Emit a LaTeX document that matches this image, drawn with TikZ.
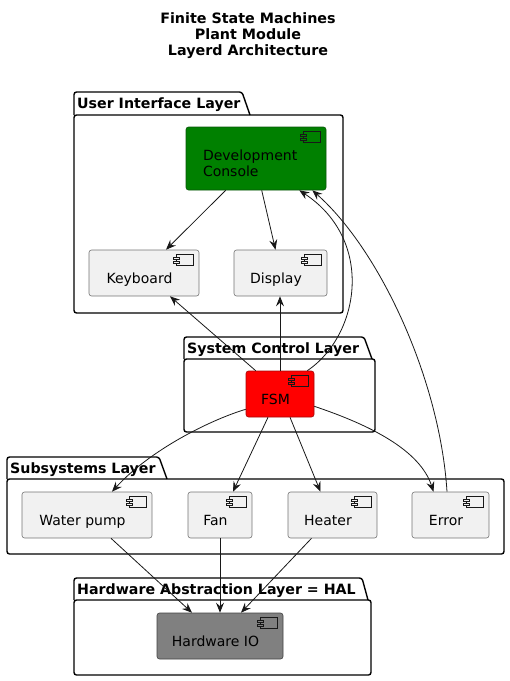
\documentclass[tikz,border=0pt]{standalone}
\usepackage{fontspec}
\setmainfont{DejaVu Sans}
\usetikzlibrary{arrows.meta}
\definecolor{lc}{HTML}{181818}
\definecolor{boxfill}{HTML}{F1F1F1}
\definecolor{devgreen}{HTML}{008000}
\definecolor{fsmred}{HTML}{FF0000}
\definecolor{hwgray}{HTML}{808080}
\tikzset{
  comp/.style={draw=lc!60, line width=0.6pt, rounded corners=2.5pt, fill=boxfill,
    minimum height=46pt, inner sep=0pt,
    font=\fontsize{14}{16}\selectfont},
  onel/.style={text height=20pt, text depth=0pt, execute at begin node={\kern-9pt}},
  pkgline/.style={draw=black, line width=1.4pt, rounded corners=2.5pt},
  pkgtitle/.style={anchor=base west, inner sep=0pt, font=\fontsize{14.2}{16}\selectfont\bfseries},
  conn/.style={draw=lc, line width=0.8pt, -{Stealth[length=10pt,width=8pt,inset=3.5pt]}},
  icon/.style={draw=lc, line width=0.5pt}
}
\newcommand\compicon[2]{%
  \draw[icon, fill=#2] ([xshift=-23pt,yshift=-5pt]#1.north east) rectangle ++(17,11);
  \draw[icon, fill=#2] ([xshift=-26pt,yshift=-7.5pt]#1.north east) rectangle ++(6,2.5);
  \draw[icon, fill=#2] ([xshift=-26pt,yshift=-11.5pt]#1.north east) rectangle ++(6,2.5);
}
\begin{document}
\begin{tikzpicture}[x=1pt,y=-1pt]
\useasboundingbox (0,0) rectangle (510,681);
% title
\node[align=center, inner sep=0pt, font=\fontsize{14.3}{16.4}\selectfont\bfseries, anchor=north] (title) at (248,12)
  {Finite State Machines\\Plant Module\\Layerd Architecture};

% packages
\draw[pkgline] (74,115) -- (74,92) -- (242,92) -- (250,115);
\draw[pkgline] (74,115) rectangle (343,313);
\node[pkgtitle] (ptui) at (77,108) {User Interface Layer};

\draw[pkgline] (184,359) -- (184,337) -- (364,337) -- (372,359);
\draw[pkgline] (184,359) rectangle (375,432);
\node[pkgtitle] (ptscl) at (187,353) {System Control Layer};

\draw[pkgline] (7,479) -- (7,457) -- (159,457) -- (167,479);
\draw[pkgline] (7,479) rectangle (504,554);
\node[pkgtitle] (ptsub) at (10,473) {Subsystems Layer};

\draw[pkgline] (74,600) -- (74,578) -- (362,578) -- (368,600);
\draw[pkgline] (74,600) rectangle (371,675);
\node[pkgtitle] (pthal) at (77,594) {Hardware Abstraction Layer = HAL};

% components
\node[comp, fill=devgreen, draw=lc!40!devgreen, minimum width=140pt, minimum height=63pt,
  align=left, text width=106pt, text height=13pt, text depth=10pt] (dev) at (256,158.5)
  {Development\\Console};
\compicon{dev}{devgreen}
\node[comp, onel, minimum width=110pt] (kb) at (144,273) {Keyboard};
\compicon{kb}{boxfill}
\node[comp, onel, minimum width=93pt] (disp) at (280.5,273) {Display};
\compicon{disp}{boxfill}
\node[comp, onel, fill=fsmred, draw=lc!40!fsmred, minimum width=68pt] (fsm) at (280,394) {FSM};
\compicon{fsm}{fsmred}
\node[comp, onel, minimum width=130pt] (wp) at (87,515) {Water pump};
\compicon{wp}{boxfill}
\node[comp, onel, minimum width=64pt] (fan) at (220,515) {Fan};
\compicon{fan}{boxfill}
\node[comp, onel, minimum width=89pt] (heater) at (332.5,515) {Heater};
\compicon{heater}{boxfill}
\node[comp, onel, minimum width=77pt] (err) at (450.5,515) {Error};
\compicon{err}{boxfill}
\node[comp, onel, fill=hwgray, draw=lc!60!hwgray, minimum width=126pt] (hw) at (220,636) {Hardware IO};
\compicon{hw}{hwgray}

% connectors
\draw[conn] ([xshift=40pt]dev.south west) -- ([xshift=22pt]kb.north);
\draw[conn] ([xshift=76pt]dev.south west) -- ([xshift=-5pt]disp.north);
\draw[conn] ([xshift=10pt]fsm.north west) -- ([xshift=26pt]kb.south);
\draw[conn] (fsm.north) -- (fsm.north |- disp.south);
\draw[conn] ([xshift=-7pt]fsm.north east) .. controls (360,335) and (375,240) .. ([xshift=-27pt]dev.south east);
\draw[conn] ([xshift=-3.5pt]err.north) .. controls (440,380) and (380,250) .. ([xshift=-14pt]dev.south east);
\draw[conn] ([yshift=8pt]fsm.south west) .. controls (210,420) and (150,450) .. ([xshift=25pt]wp.north);
\draw[conn] ([xshift=-12pt]fsm.south) -- ([xshift=13pt]fan.north);
\draw[conn] ([xshift=10pt]fsm.south) -- ([xshift=-12pt]heater.north);
\draw[conn] ([yshift=11pt]fsm.south east) .. controls (370,425) and (420,450) .. ([xshift=-17pt]err.north);
\draw[conn] ([xshift=24pt]wp.south) -- ([xshift=-28pt]hw.north);
\draw[conn] (fan.south) -- (hw.north);
\draw[conn] ([xshift=-21pt]heater.south) -- ([xshift=21pt]hw.north);
\end{tikzpicture}
\end{document}
